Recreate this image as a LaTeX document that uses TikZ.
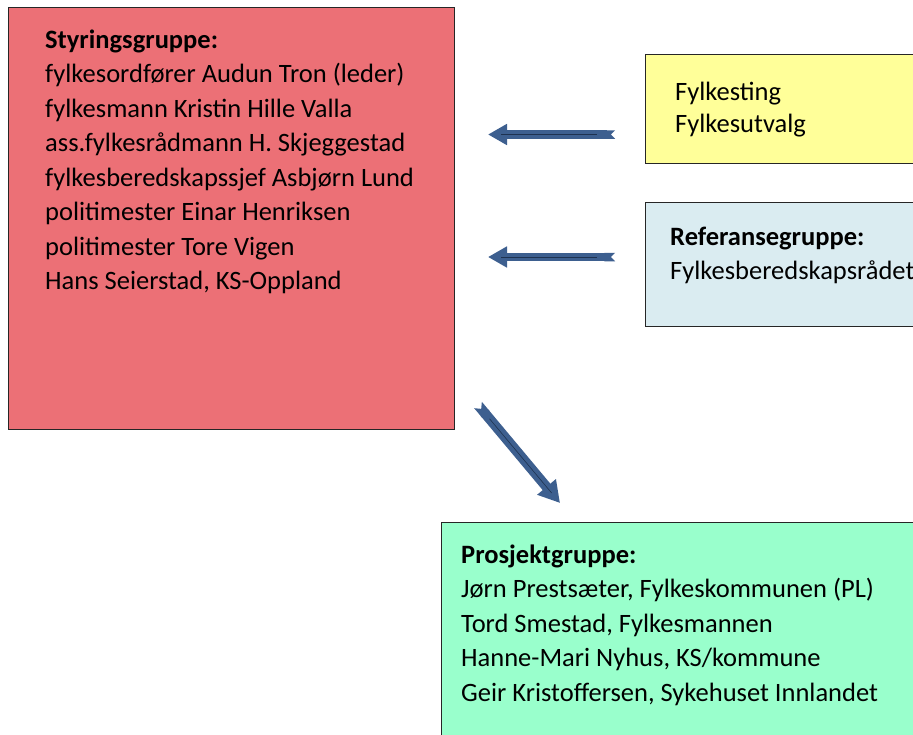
\documentclass[tikz,border=0pt]{standalone}
\usepackage{fontspec}
\setmainfont{Carlito}
\usepackage{tikz}
\usetikzlibrary{arrows.meta}
\definecolor{styrred}{RGB}{236,112,118}
\definecolor{fylkyellow}{RGB}{255,255,153}
\definecolor{refblue}{RGB}{218,236,241}
\definecolor{prosjgreen}{RGB}{153,255,204}
\definecolor{arrowblue}{RGB}{61,95,143}
\definecolor{arrowline}{RGB}{30,50,80}
\tikzset{
  box/.style={draw=black!85,line width=1.3pt,rectangle,anchor=north west,inner sep=0pt},
  boxtext/.style={anchor=north west,align=left,inner sep=0pt,font=\fontsize{26.5}{34.5}\selectfont},
  blockarrow/.style={draw=arrowblue,line width=8.5pt,{Triangle Cap[reversed]}-{Triangle[length=19pt,width=20pt]},
    postaction={draw=arrowline,line width=0.6pt,-,shorten <=18pt,shorten >=13pt}}
}

\begin{document}
\begin{tikzpicture}[x=1pt,y=-1pt]
\clip (0,0) rectangle (913,734);
\fill[white] (0,0) rectangle (913,734);
% boxes
\node[box,fill=styrred,minimum width=446pt,minimum height=422pt] (styr) at (8,7) {};
\node[box,fill=fylkyellow,minimum width=300pt,minimum height=108.5pt] (fylk) at (644.5,54) {};
\node[box,fill=refblue,minimum width=300pt,minimum height=124.5pt] (ref) at (644.5,201.5) {};
\node[box,fill=prosjgreen,minimum width=500pt,minimum height=250pt] (prosj) at (440.5,521.5) {};
% texts
\node[boxtext] (styrtxt) at (45,24) {\strut\textbf{Styringsgruppe:}\\
fylkesordfører Audun Tron (leder)\\
fylkesmann Kristin Hille Valla\\
ass.fylkesrådmann H. Skjeggestad\\
fylkesberedskapssjef Asbjørn Lund\\
politimester Einar Henriksen\\
politimester Tore Vigen\\
Hans Seierstad, KS-Oppland};
\node[boxtext,font=\fontsize{26.5}{32}\selectfont] (fylktxt) at (675,77.5) {\strut Fylkesting\\Fylkesutvalg};
\node[boxtext] (reftxt) at (670,221) {\strut\textbf{Referansegruppe:}\\Fylkesberedskapsrådet};
\node[boxtext] (prosjtxt) at (461,539) {\strut\textbf{Prosjektgruppe:}\\
Jørn Prestsæter, Fylkeskommunen (PL)\\
Tord Smestad, Fylkesmannen\\
Hanne-Mari Nyhus, KS/kommune\\
Geir Kristoffersen, Sykehuset Innlandet};
% arrows
\coordinate (fylkarr) at (615,134.5);
\coordinate (fylkend) at (488,134.5);
\coordinate (refarr) at (615,257);
\coordinate (refend) at (488,257);
\coordinate (styrarr) at (478,405);
\coordinate (styrend) at (560,503);
\draw[blockarrow] (fylkarr) -- (fylkend);
\draw[blockarrow] (refarr) -- (refend);
\draw[blockarrow,line width=10pt,{Triangle Cap[reversed]}-{Triangle[length=21pt,width=23pt]}] (styrarr) -- (styrend);
\end{tikzpicture}
\end{document}
